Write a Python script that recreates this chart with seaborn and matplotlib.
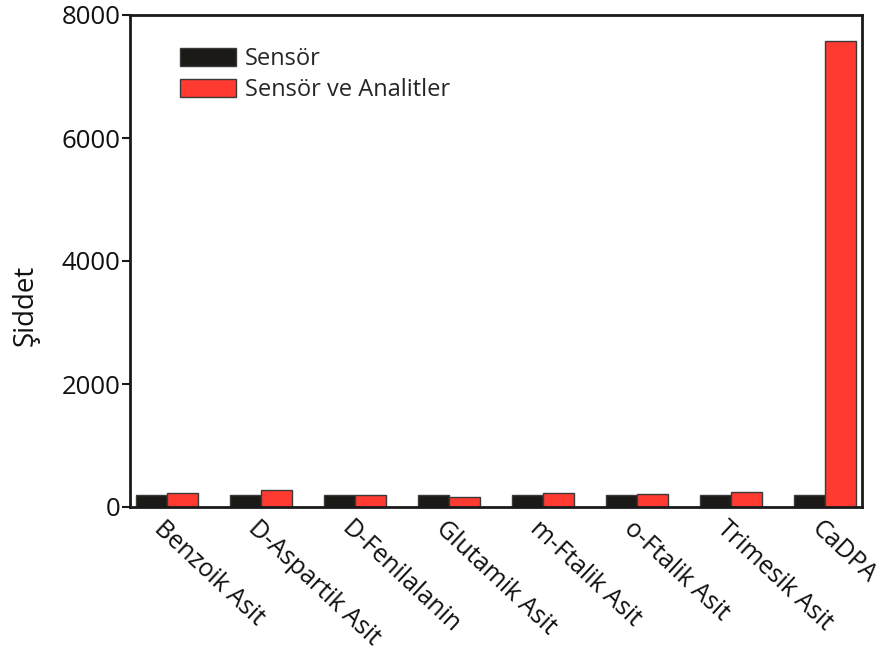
import matplotlib
matplotlib.use("Agg")
import matplotlib.pyplot as plt
import matplotlib.transforms as mtransforms
import seaborn as sns
import pandas as pd

categories = ["Benzoik Asit", "D-Aspartik Asit", "D-Fenilalanin", "Glutamik Asit",
              "m-Ftalik Asit", "o-Ftalik Asit", "Trimesik Asit", "CaDPA"]
sensor = [200, 200, 200, 200, 200, 200, 200, 200]
sensor_analyte = [220, 275, 190, 165, 220, 215, 240, 7570]
series_names = ["Sensör", "Sensör ve Analitler"]
yticks = [0, 2000, 4000, 6000, 8000]

df = pd.DataFrame({
    "Analit": categories * 2,
    "Şiddet": sensor + sensor_analyte,
    "Seri": [series_names[0]] * len(categories) + [series_names[1]] * len(categories),
})

sns.set_style("white")
plt.rcParams["font.family"] = ["Open Sans", "DejaVu Sans"]

fig = plt.figure(figsize=(8.81, 6.66), dpi=100)
ax = fig.add_axes([130 / 881, 1 - 507 / 666, (862 - 130) / 881, (507 - 15) / 666])

sns.barplot(data=df, x="Analit", y="Şiddet", hue="Seri",
            palette=["#1c1a17", "#ff3a30"], width=0.66, ax=ax,
            edgecolor="#3a3a3a", linewidth=1.0, saturation=1)

ax.set_ylim(0, 8000)
ax.set_xlim(-0.395, 7.395)
ax.set_yticks(yticks)
ax.set_yticklabels([str(v) for v in yticks], fontsize=18.5, color="#111111")
ax.set_xlabel("")
ax.set_ylabel("Şiddet", fontsize=20, color="#111111")
ax.yaxis.set_label_coords(-0.124, 0.41)

for side in ["left", "right", "top", "bottom"]:
    ax.spines[side].set_visible(True)
    ax.spines[side].set_color("#1a1a1a")
    ax.spines[side].set_linewidth(2)

ax.tick_params(axis="y", direction="out", length=6, width=1.5, color="#1a1a1a", pad=1,
               left=True)
ax.tick_params(axis="x", length=0, pad=13)
ax.set_xticks(range(len(categories)))
ax.set_xticklabels(categories, fontsize=18, rotation=-43, ha="left",
                   va="center", rotation_mode="anchor", color="#111111")
shift = mtransforms.ScaledTranslation(-10 / 100, 0, fig.dpi_scale_trans)
for lbl in ax.get_xticklabels():
    lbl.set_transform(lbl.get_transform() + shift)

leg = ax.legend(loc="upper left", bbox_to_anchor=(0.068, 0.935), frameon=False,
                prop={"size": 17}, handlelength=2.4, handleheight=0.8,
                handletextpad=0.35, labelspacing=0.3, borderaxespad=0, borderpad=0)

fig.savefig("out.png", dpi=100)
